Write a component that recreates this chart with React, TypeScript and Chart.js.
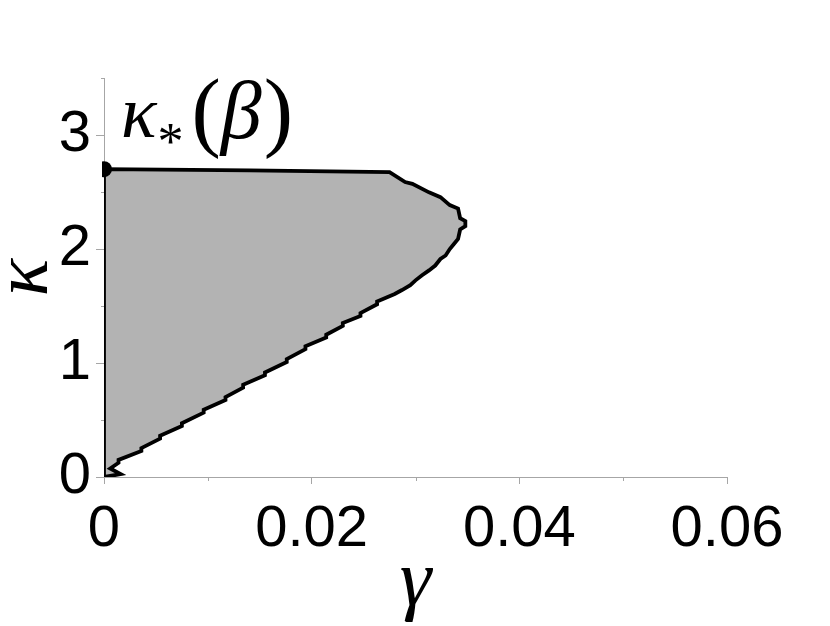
import React, { useEffect, useRef } from 'react';
import { Chart, registerables } from 'chart.js';
Chart.register(...registerables);

// Boundary of the shaded stability region (gamma, kappa), traced in order
const regionGamma = [
  0, 0.0016, 0.0006, 0.0014, 0.0014, 0.0036, 0.0036, 0.0054, 0.0054, 0.0075, 0.0075,
  0.0096, 0.0096, 0.0117, 0.0117, 0.0134, 0.0134, 0.0155, 0.0155, 0.0176, 0.0176,
  0.0194, 0.0194, 0.0214, 0.0214, 0.023, 0.023, 0.0247, 0.0247, 0.0263, 0.0263,
  0.028, 0.0287, 0.0295, 0.03, 0.0306, 0.0313, 0.0319, 0.0324, 0.0329, 0.0333,
  0.0337, 0.0341, 0.0343, 0.0348, 0.0348, 0.0343, 0.0341, 0.0333, 0.0324, 0.0313,
  0.0297, 0.029, 0.0275, 0.014, 0, 0,
];
const regionKappa = [
  0, 0.025, 0.075, 0.125, 0.15, 0.228, 0.253, 0.337, 0.362, 0.447, 0.472,
  0.565, 0.59, 0.676, 0.701, 0.784, 0.809, 0.892, 0.917, 1.009, 1.034,
  1.121, 1.146, 1.223, 1.248, 1.325, 1.35, 1.413, 1.438, 1.515, 1.54,
  1.605, 1.64, 1.683, 1.725, 1.768, 1.812, 1.855, 1.912, 1.943, 2.0,
  2.044, 2.088, 2.171, 2.2, 2.244, 2.27, 2.355, 2.385, 2.455, 2.497,
  2.572, 2.587, 2.675, 2.69, 2.7, 0,
];

const markerGamma = [0];
const markerKappa = [2.7];

const xLabelValues = [0, 0.02, 0.04, 0.06];
const xTickLabels = ['0', '0.02', '0.04', '0.06'];
const yLabelValues = [0, 1, 2, 3];
const yTickLabels = ['0', '1', '2', '3'];

const AXIS = '#a6a6a6';
const FILL = '#b3b3b3';

const findLabel = (vals: number[], labels: string[], v: number) => {
  const i = vals.findIndex((a) => Math.abs(a - v) < 1e-9);
  return i >= 0 ? labels[i] : '';
};

const minorTicks = {
  id: 'minorTicks',
  afterDraw(chart: any) {
    const ctx = chart.ctx;
    const xs = chart.scales.x;
    const ys = chart.scales.y;
    ctx.save();
    ctx.strokeStyle = AXIS;
    ctx.lineWidth = 1;
    xs.ticks.forEach((t: any) => {
      if (findLabel(xLabelValues, xTickLabels, t.value) === '') {
        const px = Math.round(xs.getPixelForValue(t.value)) + 0.5;
        ctx.beginPath();
        ctx.moveTo(px, xs.top);
        ctx.lineTo(px, xs.top + 4);
        ctx.stroke();
      }
    });
    ys.ticks.forEach((t: any) => {
      if (findLabel(yLabelValues, yTickLabels, t.value) === '') {
        const py = Math.round(ys.getPixelForValue(t.value)) + 0.5;
        ctx.beginPath();
        ctx.moveTo(ys.right, py);
        ctx.lineTo(ys.right - 3, py);
        ctx.stroke();
      }
    });
    ctx.restore();
  },
};

const annotation = {
  id: 'kappaStarLabel',
  afterDatasetsDraw(chart: any) {
    const ctx = chart.ctx;
    const px = chart.scales.x.getPixelForValue(markerGamma[0]);
    const py = chart.scales.y.getPixelForValue(markerKappa[0]);
    ctx.save();
    ctx.fillStyle = '#000';
    ctx.textBaseline = 'alphabetic';
    ctx.textAlign = 'left';
    let x = px + 17;
    const base = py - 32;
    ctx.font = 'italic 74px "Liberation Serif"';
    ctx.fillText('κ', x, base);
    x += ctx.measureText('κ').width + 1;
    ctx.font = '52px "Liberation Serif"';
    ctx.fillText('*', x, base + 22);
    x += ctx.measureText('*').width + 8;
    ctx.font = '88px "Liberation Serif"';
    ctx.fillText('(', x, base + 3);
    x += ctx.measureText('(').width;
    ctx.font = 'italic 82px "Liberation Serif"';
    ctx.fillText('β', x, base + 1);
    x += ctx.measureText('β').width + 2;
    ctx.font = '88px "Liberation Serif"';
    ctx.fillText(')', x, base + 3);
    ctx.restore();
  },
};

export default function App() {
  const ref = useRef<HTMLCanvasElement | null>(null);
  useEffect(() => {
    if (!ref.current) return;
    const region = regionGamma.map((g, i) => ({ x: g, y: regionKappa[i] }));
    const marker = markerGamma.map((g, i) => ({ x: g, y: markerKappa[i] }));
    const chart = new Chart(ref.current, {
      type: 'line',
      data: {
        datasets: [
          {
            data: marker,
            borderColor: '#000',
            backgroundColor: '#000',
            pointRadius: 8,
            pointBorderWidth: 0,
            showLine: false,
            clip: { left: 2, top: 20, right: 0, bottom: 0 },
          } as any,
          {
            data: region,
            borderColor: '#000',
            borderWidth: 3.8,
            backgroundColor: FILL,
            fill: 'shape',
            pointRadius: 0,
            tension: 0,
            borderJoinStyle: 'miter',
          } as any,
        ],
      },
      options: {
        responsive: false,
        animation: false,
        layout: { padding: { top: 78, right: 103, left: 0, bottom: 0 } },
        plugins: { legend: { display: false }, tooltip: { enabled: false } },
        scales: {
          x: {
            type: 'linear',
            min: 0,
            max: 0.06,
            afterFit: (s: any) => {
              s.height = 149;
            },
            border: { display: true, color: AXIS, width: 1 },
            grid: {
              drawOnChartArea: false,
              drawTicks: true,
              tickLength: 7,
              tickColor: (c: any) =>
                findLabel(xLabelValues, xTickLabels, c.tick.value) !== '' ? AXIS : 'rgba(0,0,0,0)',
            },
            ticks: {
              stepSize: 0.01,
              autoSkip: false,
              maxRotation: 0,
              padding: 11,
              color: '#000',
              font: { family: '"Liberation Sans"', size: 58 },
              callback: (v: any) => findLabel(xLabelValues, xTickLabels, Number(v)),
            },
            title: {
              display: true,
              text: 'γ',
              color: '#000',
              font: { family: '"Liberation Serif"', size: 80, style: 'italic', lineHeight: 1 },
              padding: { top: 0, bottom: 2 },
            },
          },
          y: {
            type: 'linear',
            min: 0,
            max: 3.5,
            afterFit: (s: any) => {
              s.width = 104;
            },
            border: { display: true, color: AXIS, width: 1 },
            grid: {
              drawOnChartArea: false,
              drawTicks: true,
              tickLength: 8,
              tickColor: (c: any) =>
                findLabel(yLabelValues, yTickLabels, c.tick.value) !== '' ? AXIS : 'rgba(0,0,0,0)',
            },
            ticks: {
              stepSize: 0.5,
              autoSkip: false,
              padding: 5,
              color: '#000',
              font: { family: '"Liberation Sans"', size: 58 },
              callback: (v: any) => findLabel(yLabelValues, yTickLabels, Number(v)),
            },
            title: {
              display: true,
              text: 'κ',
              color: '#000',
              font: { family: '"Liberation Serif"', size: 78, style: 'italic', lineHeight: 0.6 },
              padding: { top: 3, bottom: 0 },
            },
          },
        },
      },
      plugins: [minorTicks, annotation],
    });
    return () => chart.destroy();
  }, []);
  return (
    <div style={{ position: 'absolute', left: 0, top: 0, width: 830, height: 626, background: '#fff' }}>
      <canvas ref={ref} width={830} height={626} style={{ display: 'block' }} />
    </div>
  );
}
